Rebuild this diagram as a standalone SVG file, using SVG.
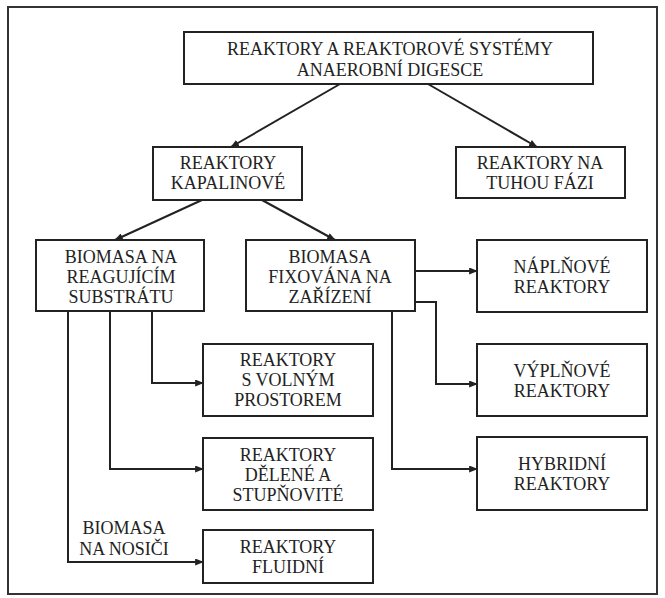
<svg xmlns="http://www.w3.org/2000/svg" width="665" height="598" viewBox="0 0 665 598">
<defs>
<style>
.box{fill:#fff;stroke:#222;stroke-width:2}
.t{font-family:"Liberation Serif","Times New Roman",serif;font-size:18px;fill:#222;text-anchor:middle}
.c{fill:none;stroke:#222;stroke-width:2;marker-end:url(#ah)}
</style>
<marker id="ah" viewBox="0 0 10 8" refX="9" refY="4" markerWidth="9" markerHeight="7" markerUnits="userSpaceOnUse" orient="auto">
<path d="M0,0 L10,4 L0,8 z" fill="#222"/>
</marker>
</defs>
<rect width="665" height="598" fill="#fff"/>
<rect x="8" y="7" width="649" height="587" fill="none" stroke="#333" stroke-width="2"/>
<g id="connectors">
<path class="c" d="M340,84 L231,147"/>
<path class="c" d="M428,84 L537,147"/>
<path class="c" d="M202,200 L115,240"/>
<path class="c" d="M262,200 L335,240"/>
<path class="c" d="M415,271 L477,271"/>
<path class="c" d="M415,302 L436,302 L436,384 L477,384"/>
<path class="c" d="M392,311 L392,469 L477,469"/>
<path class="c" d="M152,311 L152,383 L203,383"/>
<path class="c" d="M110,311 L110,469 L203,469"/>
<path class="c" d="M68,311 L68,562 L203,562"/>
</g>
<g id="n-root"><rect class="box" x="184" y="32" width="409" height="52"/>
<text class="t" x="390" y="55">REAKTORY A REAKTOROVÉ SYSTÉMY</text>
<text class="t" x="390" y="76">ANAEROBNÍ DIGESCE</text></g>
<g id="n-kapalinove"><rect class="box" x="153" y="147" width="149" height="53"/>
<text class="t" x="228" y="169">REAKTORY</text>
<text class="t" x="228" y="189">KAPALINOVÉ</text></g>
<g id="n-tuhou"><rect class="box" x="456" y="147" width="169" height="51"/>
<text class="t" x="540" y="169">REAKTORY NA</text>
<text class="t" x="540" y="189">TUHOU FÁZI</text></g>
<g id="n-substrat"><rect class="box" x="36" y="240" width="168" height="71"/>
<text class="t" x="121" y="263">BIOMASA NA</text>
<text class="t" x="121" y="283">REAGUJÍCÍM</text>
<text class="t" x="121" y="303">SUBSTRÁTU</text></g>
<g id="n-fixovana"><rect class="box" x="246" y="240" width="169" height="71"/>
<text class="t" x="330" y="263">BIOMASA</text>
<text class="t" x="330" y="283">FIXOVÁNA NA</text>
<text class="t" x="330" y="303">ZAŘÍZENÍ</text></g>
<g id="n-naplnove"><rect class="box" x="477" y="240" width="170" height="72"/>
<text class="t" x="562" y="273">NÁPLŇOVÉ</text>
<text class="t" x="562" y="293">REAKTORY</text></g>
<g id="n-vyplnove"><rect class="box" x="477" y="344" width="170" height="72"/>
<text class="t" x="562" y="377">VÝPLŇOVÉ</text>
<text class="t" x="562" y="397">REAKTORY</text></g>
<g id="n-hybridni"><rect class="box" x="477" y="437" width="170" height="73"/>
<text class="t" x="562" y="470">HYBRIDNÍ</text>
<text class="t" x="562" y="490">REAKTORY</text></g>
<g id="n-volny"><rect class="box" x="203" y="344" width="170" height="72"/>
<text class="t" x="288" y="366">REAKTORY</text>
<text class="t" x="288" y="386">S VOLNÝM</text>
<text class="t" x="288" y="406">PROSTOREM</text></g>
<g id="n-delene"><rect class="box" x="203" y="438" width="170" height="72"/>
<text class="t" x="288" y="461">REAKTORY</text>
<text class="t" x="288" y="481">DĚLENÉ A</text>
<text class="t" x="288" y="501">STUPŇOVITÉ</text></g>
<g id="n-fluidni"><rect class="box" x="203" y="530" width="170" height="53"/>
<text class="t" x="288" y="553">REAKTORY</text>
<text class="t" x="288" y="573">FLUIDNÍ</text></g>
<g id="l-nosic">
<text class="t" x="124" y="534">BIOMASA</text>
<text class="t" x="124" y="555">NA NOSIČI</text></g>
</svg>
